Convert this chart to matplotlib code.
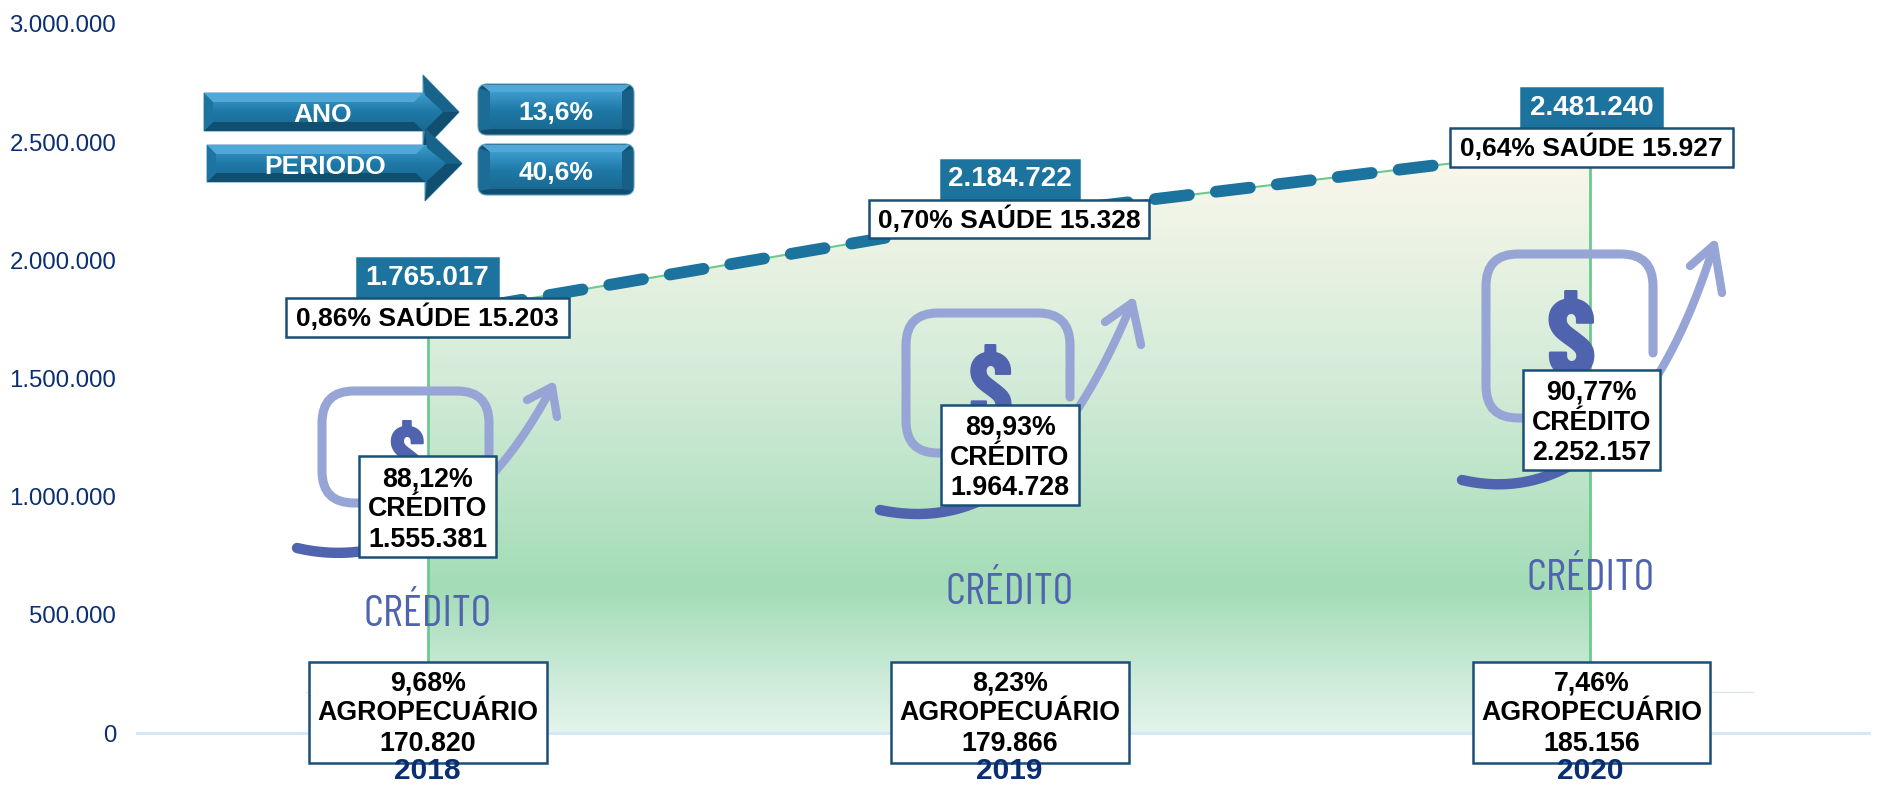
import matplotlib
matplotlib.use("Agg")
import matplotlib.pyplot as plt
from matplotlib.colors import LinearSegmentedColormap
from matplotlib.patches import FancyBboxPatch, PathPatch, Polygon, Rectangle
from matplotlib.path import Path
from matplotlib.transforms import Affine2D
import numpy as np

plt.rcParams['font.family'] = ['Liberation Sans', 'DejaVu Sans']

years = ["2018", "2019", "2020"]
totals = [1765017, 2184722, 2481240]
total_labels = ["1.765.017", "2.184.722", "2.481.240"]
saude_labels = ["0,86% SAÚDE 15.203", "0,70% SAÚDE 15.328", "0,64% SAÚDE 15.927"]
credito_labels = ["88,12%\nCRÉDITO\n1.555.381", "89,93%\nCRÉDITO\n1.964.728", "90,77%\nCRÉDITO\n2.252.157"]
agro_labels = ["9,68%\nAGROPECUÁRIO\n170.820", "8,23%\nAGROPECUÁRIO\n179.866", "7,46%\nAGROPECUÁRIO\n185.156"]
y_ticks = [0, 500000, 1000000, 1500000, 2000000, 2500000, 3000000]
y_tick_labels = ["0", "500.000", "1.000.000", "1.500.000", "2.000.000", "2.500.000", "3.000.000"]
growth_names = ["ANO", "PERIODO"]
growth_values = ["13,6%", "40,6%"]

W, H = 1903, 785
NAVY = "#0b2d71"
TEAL = "#1c739e"
BOX_EDGE = "#1a4f78"
LIGHT = "#97a4d6"
DARK = "#5063ae"
NARROW = ['Barlow Condensed', 'Liberation Sans', 'DejaVu Sans']

fig = plt.figure(figsize=(W / 100, H / 100), dpi=100)
ax = fig.add_axes([137 / W, 1 - 733 / H, (1881 - 137) / W, (733 - 24) / H])
# decorations are placed in figure pixels, y going down
px = Affine2D().scale(1, -1).translate(0, H)

x = np.arange(len(years))

# area with vertical gradient
grad = LinearSegmentedColormap.from_list(
    "area", [(0, "#e4f4ec"), (0.245, "#a3dcb7"), (0.6, "#d3ebd8"), (1, "#fbf8ec")])
area = ax.fill_between(x, totals, 0, color="none", zorder=1)
img = ax.imshow(np.linspace(0, 1, 256).reshape(-1, 1), cmap=grad, origin="lower",
                extent=(0, 2, 0, max(totals)), aspect="auto", zorder=1)
img.set_clip_path(area.get_paths()[0], transform=ax.transData)
ax.plot([0, 0], [0, totals[0]], color="#6cc98f", lw=2, zorder=2)
ax.plot([2, 2], [0, totals[2]], color="#6cc98f", lw=2, zorder=2)
ax.plot(x, totals, color="#6cc98f", lw=1.5, zorder=2)
ax.plot(x, totals, color=TEAL, lw=8.5, dashes=(2.9, 2.3), dash_capstyle="round", zorder=6)

ax.set_xlim(-0.5, 2.5)
ax.set_ylim(0, 3000000)
ax.set_xticks(x, years)
ax.set_yticks(y_ticks, y_tick_labels)
ax.tick_params(axis="x", length=0, pad=17, labelsize=21.5, labelcolor=NAVY)
ax.tick_params(axis="y", length=0, pad=15, labelsize=17.3, labelcolor=NAVY)
for lab in ax.get_xticklabels():
    lab.set_fontweight("bold")
for name in ["top", "right", "left"]:
    ax.spines[name].set_visible(False)
ax.spines["bottom"].set_color("#d2e8f6")
ax.spines["bottom"].set_linewidth(2)
ax.spines["bottom"].set_bounds(-0.5, 2.48)
ax.spines["bottom"].set_zorder(3)
ax.xaxis.set_zorder(30)
ax.yaxis.set_zorder(30)


def add(artist):
    artist.set_transform(px)
    artist.set_clip_on(False)
    ax.add_artist(artist)
    return artist


def bezier(p0, p1, p2, p3, t):
    t = t[:, None]
    p0, p1, p2, p3 = map(np.array, (p0, p1, p2, p3))
    return (1 - t) ** 3 * p0 + 3 * (1 - t) ** 2 * t * p1 + 3 * (1 - t) * t ** 2 * p2 + t ** 3 * p3


def draw_icon(x0, y0, x1, y1, right_end, start, c1, c2, tip, head_a, head_b, d_x, d_y, d_size):
    r = 32
    verts = [(x1, right_end), (x1, y0 + r), (x1, y0), (x1 - r, y0), (x0 + r, y0), (x0, y0), (x0, y0 + r),
             (x0, y1 - r), (x0, y1), (x0 + r, y1), (x0 + 100, y1)]
    codes = [Path.MOVETO, Path.LINETO, Path.CURVE3, Path.CURVE3, Path.LINETO, Path.CURVE3, Path.CURVE3,
             Path.LINETO, Path.CURVE3, Path.CURVE3, Path.LINETO]
    add(PathPatch(Path(verts, codes), fill=False, edgecolor=LIGHT, lw=6.5, capstyle="round", zorder=4))
    curve = bezier(start, c1, c2, tip, np.linspace(0, 1, 80))
    kw = dict(transform=px, clip_on=False, solid_capstyle="round", zorder=4)
    ax.plot(curve[:, 0], curve[:, 1], color=LIGHT, lw=6, **kw)
    ax.plot(curve[:36, 0], curve[:36, 1], color=DARK, lw=7.5, **kw)
    ax.plot([head_a[0], tip[0], head_b[0]], [head_a[1], tip[1], head_b[1]], color=LIGHT, lw=6,
            solid_joinstyle="round", **kw)
    ax.text(d_x, d_y, "$", transform=px, color=DARK, fontsize=d_size, fontweight=800,
            family=NARROW, ha="center", va="center", zorder=4)


draw_icon(322, 391, 489, 503, 470, (297, 548), (400, 572), (490, 505), (552, 387),
          (527, 400), (557, 417), 407, 461, 58)
draw_icon(906, 313, 1070, 453, 397, (880, 510), (1000, 535), (1075, 440), (1132, 303),
          (1105, 322), (1141, 345), 990, 397, 72)
draw_icon(1486, 254, 1653, 418, 353, (1462, 480), (1570, 505), (1660, 420), (1714, 245),
          (1690, 266), (1722, 293), 1571, 347, 80)

credito_pos = [(428, 615, 32), (1010, 593, 32), (1591, 579, 32)]
for cx, cy, size in credito_pos:
    ax.text(cx, cy, "CRÉDITO", transform=px, color=DARK, fontsize=size, fontweight=400, ha="center", va="center",
            family=NARROW, zorder=4)


def label_box(x0, y0, x1, y1, text, size=19.3, bg="white", fg="black", edge=BOX_EDGE, spacing=1.0, dy=0):
    add(Rectangle((x0, y0), x1 - x0, y1 - y0, facecolor=bg, edgecolor=edge, lw=1.8, zorder=10))
    ax.text((x0 + x1) / 2, (y0 + y1) / 2 + dy, text, transform=px, color=fg, fontsize=size, fontweight="bold",
            ha="center", va="center", linespacing=spacing, zorder=11)


total_boxes = [(357, 258, 498, 298), (941, 160, 1079, 199), (1521, 88, 1662, 128)]
saude_boxes = [(286, 298, 569, 337), (869, 200, 1149, 238), (1450, 128, 1733, 167)]
credito_boxes = [(359, 456, 496, 557), (941, 405, 1079, 505), (1523, 370, 1660, 470)]
agro_boxes = [(309, 662, 547, 763), (891, 662, 1129, 763), (1473, 662, 1710, 763)]

for i in range(len(years)):
    ax.plot([agro_boxes[i][0] - 3, agro_boxes[i][0] + 280], [692, 692], color="#d8ebdd", lw=1,
            transform=px, clip_on=False, zorder=3)
    label_box(*total_boxes[i], total_labels[i], size=20, bg=TEAL, fg="white", edge=TEAL)
    label_box(*saude_boxes[i], saude_labels[i], size=19)
    label_box(*credito_boxes[i], credito_labels[i], spacing=1.21, dy=3)
    label_box(*agro_boxes[i], agro_labels[i], spacing=1.21, dy=1)

BLUE_TOP = "#4fa8d8"
BLUE_MID = "#1e74a0"
BLUE_DARK = "#114f70"
center_grad = LinearSegmentedColormap.from_list("c", ["#3d9ccd", "#1e78a6", "#1a6a92"])


def gradient_fill(x0, y0, x1, y1, clip):
    im = ax.imshow(np.linspace(0, 1, 64).reshape(-1, 1), cmap=center_grad, origin="upper",
                   extent=(x0, x1, y1, y0), aspect="auto", zorder=8, transform=px, clip_on=True)
    im.set_clip_path(clip)


def bevel_arrow(x0, top, bottom, head_x, head_top, head_bottom, tip_x, text):
    tip_y = (top + bottom) / 2
    b = 9
    outline = [(x0, top), (head_x, top), (head_x, head_top), (tip_x, tip_y), (head_x, head_bottom),
               (head_x, bottom), (x0, bottom)]
    shape = add(Polygon(outline, closed=True, facecolor=BLUE_MID, edgecolor="#5f9dbd", lw=0.8, zorder=7))
    gradient_fill(x0, top, tip_x, bottom, shape)
    add(Polygon([(x0, top), (head_x, top), (head_x - b, top + b), (x0 + b, top + b)], facecolor=BLUE_TOP, zorder=8))
    add(Polygon([(x0, bottom), (head_x, bottom), (head_x - b, bottom - b), (x0 + b, bottom - b)],
                facecolor=BLUE_DARK, zorder=8))
    add(Polygon([(x0, top), (x0 + b, top + b), (x0 + b, bottom - b), (x0, bottom)], facecolor=BLUE_MID, zorder=8))
    add(Polygon([(head_x, head_top), (tip_x, tip_y), (tip_x - 16, tip_y), (head_x + 2, head_top + 20)],
                facecolor="#17638a", zorder=8))
    add(Polygon([(head_x, head_bottom), (tip_x, tip_y), (tip_x - 16, tip_y), (head_x + 2, head_bottom - 20)],
                facecolor=BLUE_DARK, zorder=8))
    ax.text((x0 + head_x) / 2 + 9, tip_y + 3, text, transform=px, color="white", fontsize=19, fontweight="bold",
            ha="center", va="center", zorder=9)


def bevel_button(x0, y0, x1, y1, text):
    add(FancyBboxPatch((x0 + 7, y0 + 7), x1 - x0 - 14, y1 - y0 - 14, boxstyle="round,pad=7,rounding_size=9",
                       facecolor=BLUE_DARK, edgecolor="#5f9dbd", lw=0.8, zorder=7))
    b = 8
    add(Polygon([(x0 + 4, y0 + 1), (x1 - 4, y0 + 1), (x1 - b - 4, y0 + b), (x0 + b + 4, y0 + b)],
                facecolor=BLUE_TOP, zorder=8))
    add(Polygon([(x0 + 1, y0 + 4), (x0 + b + 4, y0 + b), (x0 + b + 4, y1 - b + 2), (x0 + 1, y1 - 4)],
                facecolor="#1b6d97", zorder=8))
    add(Polygon([(x1 - 1, y0 + 4), (x1 - b - 4, y0 + b), (x1 - b - 4, y1 - b + 2), (x1 - 1, y1 - 4)],
                facecolor="#175f85", zorder=8))
    inner = add(Rectangle((x0 + b + 4, y0 + b), x1 - x0 - 2 * b - 8, y1 - y0 - 2 * b + 2, facecolor=BLUE_MID, zorder=8))
    gradient_fill(x0 + b + 4, y0 + b, x1 - b - 4, y1 - b + 2, inner)
    ax.text((x0 + x1) / 2, (y0 + y1) / 2 + 4, text, transform=px, color="white", fontsize=19, fontweight="bold",
            ha="center", va="center", zorder=9)


bevel_arrow(204, 93, 131, 423, 75, 150, 459, growth_names[0])
bevel_arrow(207, 145, 182, 425, 128, 201, 462, growth_names[1])
bevel_button(478, 84, 634, 135, growth_values[0])
bevel_button(478, 144, 634, 195, growth_values[1])

ax.set_xlim(-0.5, 2.5)
ax.set_ylim(0, 3000000)
ax.set_aspect("auto")

fig.savefig("out.png", dpi=100)
